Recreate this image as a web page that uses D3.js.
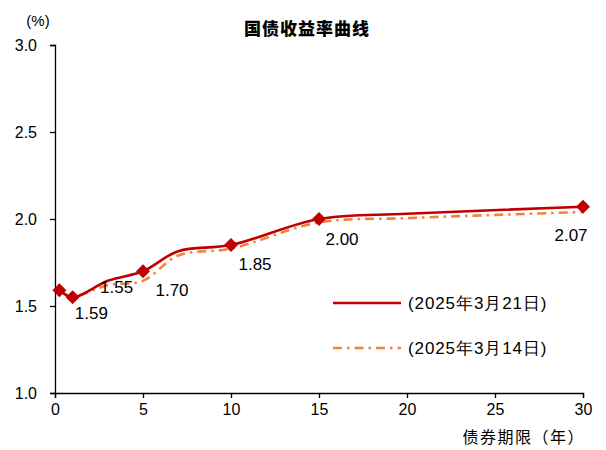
<!DOCTYPE html>
<html><head><meta charset="utf-8">
<script src="https://cdn.jsdelivr.net/npm/d3@7/dist/d3.min.js"></script>
<style>body{margin:0;background:#fff}svg{display:block}</style>
</head><body><svg id="c" width="606" height="450"></svg>
<script>
// ---- data ----
const title = "国债收益率曲线";
const xAxisTitle = "债券期限（年）";
const yUnit = "(%)";
const maturities = [0.25, 1, 3, 5, 7, 10, 15, 20, 30];
const seriesNames = ["(2025年3月21日)", "(2025年3月14日)"];
const yield0321 = [1.59, 1.55, 1.645, 1.70, 1.815, 1.85, 2.00, 2.03, 2.07];
const yield0314 = [1.59, 1.555, 1.62, 1.645, 1.79, 1.83, 1.98, 2.005, 2.04];
const markedMaturities = [0.25, 1, 5, 10, 15, 30];
const xTicks = [0, 5, 10, 15, 20, 25, 30];
const yTicks = [1.0, 1.5, 2.0, 2.5, 3.0];

// ---- layout ----
const svg = d3.select("#c");
const x = d3.scaleLinear().domain([0, 30]).range([55, 583]);
const y = d3.scaleLinear().domain([1.0, 3.0]).range([393, 45]);
const red = "#C00000", orange = "#F0843C";
const numFont = "'Liberation Sans', Arial, sans-serif";
const cjkFont = "'Noto Sans CJK SC', sans-serif";

// axes
const xAxis = svg.append("g").attr("transform", "translate(0,393)")
  .call(d3.axisBottom(x).tickValues(xTicks).tickFormat(d3.format("d")).tickSize(5).tickPadding(6));
const yAxis = svg.append("g").attr("transform", "translate(55,0)")
  .call(d3.axisLeft(y).tickValues(yTicks).tickFormat(d3.format(".1f")).tickSize(5).tickPadding(13));
[xAxis, yAxis].forEach(g => {
  g.select(".domain").attr("stroke", "#000").attr("stroke-width", 1.3);
  g.selectAll(".tick line").attr("stroke", "#000").attr("stroke-width", 1.3);
  g.selectAll("text").attr("font-family", numFont).attr("font-size", 16).attr("fill", "#000");
});
yAxis.selectAll("text").attr("dy", "0.35em");

// lines
const mk = vals => maturities.map((m, i) => ({m, v: vals[i]}));
const line = d3.line().x(d => x(d.m)).y(d => y(d.v)).curve(d3.curveCatmullRom.alpha(0.5));
svg.append("path").datum(mk(yield0314)).attr("d", line).attr("fill", "none")
  .attr("stroke", orange).attr("stroke-width", 2.6).attr("stroke-dasharray", "9,5,2.5,5");
svg.append("path").datum(mk(yield0321)).attr("d", line).attr("fill", "none")
  .attr("stroke", red).attr("stroke-width", 2.6);

// markers
const marked = mk(yield0321).filter(d => markedMaturities.includes(d.m));
svg.selectAll(".mk").data(marked).enter().append("path")
  .attr("d", d3.symbol().type(d3.symbolDiamond2).size(125))
  .attr("transform", d => `translate(${x(d.m)},${y(d.v)})`)
  .attr("fill", red);

// data labels (offsets from the markers, as in the reference)
const labelOffsets = [[32, 29], [44, -4], [29, 25], [24, 25], [23, 26], [-12, 34]];
svg.selectAll(".lb").data(marked).enter().append("text")
  .attr("x", (d, i) => x(d.m) + labelOffsets[i][0])
  .attr("y", (d, i) => y(d.v) + labelOffsets[i][1])
  .attr("text-anchor", "middle").attr("font-family", numFont).attr("font-size", 17)
  .text(d => d.v.toFixed(2));

// title and axis titles
svg.append("text").attr("x", 307).attr("y", 35).attr("text-anchor", "middle")
  .attr("font-family", cjkFont).attr("font-weight", 900).attr("font-size", 17)
  .attr("letter-spacing", 1).text(title);
svg.append("text").attr("x", 38).attr("y", 26).attr("text-anchor", "middle")
  .attr("font-family", numFont).attr("font-size", 15).text(yUnit);
svg.append("text").attr("x", 585).attr("y", 443).attr("text-anchor", "end")
  .attr("font-family", cjkFont).attr("font-size", 16).attr("letter-spacing", 1.5).text(xAxisTitle);

// legend
const legY = [303, 348];
const leg = svg.selectAll(".lg").data(seriesNames).enter().append("g")
  .attr("transform", (d, i) => `translate(333,${legY[i]})`);
leg.append("line").attr("x1", 0).attr("x2", 68).attr("y1", 0).attr("y2", 0)
  .attr("stroke", (d, i) => i ? orange : red).attr("stroke-width", 2.6)
  .attr("stroke-dasharray", (d, i) => i ? "9,5,2.5,5" : null);
leg.append("text").attr("x", 75).attr("y", 6).attr("font-family", numFont)
  .attr("font-size", 17).attr("letter-spacing", 0.9).text(d => d);
</script></body></html>
